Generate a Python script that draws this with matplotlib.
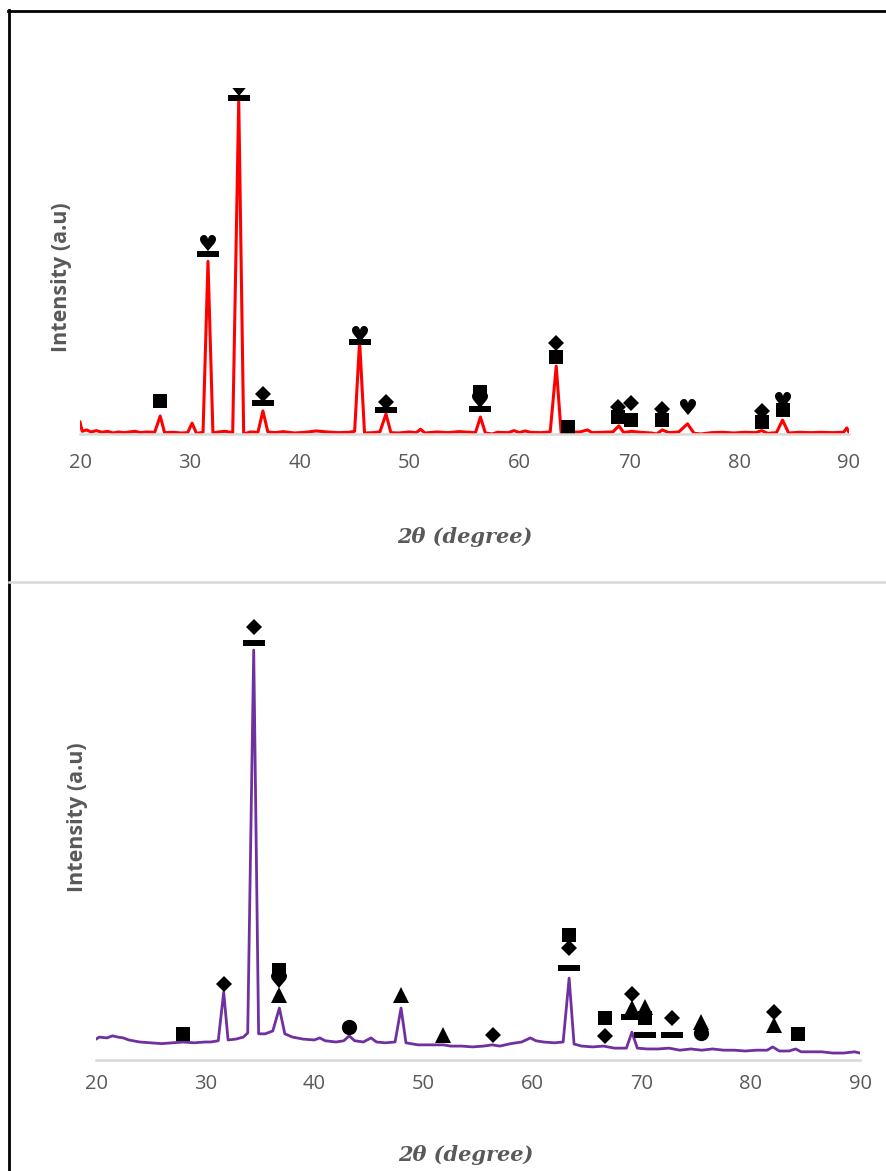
import numpy as np
import matplotlib
matplotlib.use("Agg")
import matplotlib.pyplot as plt
from matplotlib.lines import Line2D

# %%
# Top pattern (red) - 2theta and intensity (a.u.)
top_x = [20.0, 20.2, 20.6, 21.0, 21.5, 22.0, 22.5, 23.0, 23.5, 24.0, 25.0, 25.5, 26.0, 26.8,
         27.3, 27.7, 28.5, 29.2, 29.8, 30.2, 30.6, 31.2, 31.65, 32.1, 32.6, 33.2, 33.9,
         34.45, 34.9, 35.5, 36.2, 36.65, 37.1, 37.8, 38.5, 39.5, 40.5, 41.5, 42.5, 43.5,
         44.5, 45.0, 45.45, 45.9, 46.7, 47.3, 47.85, 48.3, 49.0, 50.0, 50.6, 51.0, 51.4,
         52.5, 53.5, 54.5, 55.5, 56.0, 56.45, 56.9, 57.5, 58.0, 59.0, 59.5, 60.0, 60.5,
         61.0, 62.0, 62.8, 63.35, 63.8, 64.5, 65.5, 66.2, 66.6, 67.5, 68.5, 69.05, 69.5,
         70.2, 71.0, 72.0, 72.5, 73.0, 73.6, 74.5, 75.3, 75.9, 76.5, 77.5, 78.5, 79.5,
         80.5, 81.5, 82.05, 82.6, 83.4, 83.95, 84.5, 85.5, 86.5, 87.5, 88.5, 89.5, 89.8, 90.0]
top_y = [35, 8, 12, 6, 10, 5, 8, 3, 6, 4, 8, 4, 6, 5,
         53, 4, 5, 3, 4, 32, 2, 5, 509, 3, 6, 8, 4,
         985, 0, 6, 5, 68, 6, 4, 7, 3, 5, 9, 6, 4,
         5, 8, 274, 3, 4, 6, 59, 4, 3, 6, 4, 14, 3,
         6, 4, 7, 5, 4, 50, 3, 0, 5, 4, 10, 4, 9,
         5, 4, 6, 200, 3, 5, 6, 12, 4, 5, 6, 24, 4,
         8, 5, 3, 0, 12, 4, 6, 30, 2, 0, 4, 5, 3,
         5, 4, 10, 2, 4, 41, 3, 5, 4, 5, 4, 5, 18, 5]

# Bottom pattern (purple)
bot_x = [20.0, 20.3, 21.0, 21.5, 22.0, 22.5, 23.0, 24.0, 25.0, 26.0, 27.0, 28.0, 29.0,
         30.0, 30.5, 31.2, 31.7, 32.1, 32.8, 33.5, 33.9, 34.45, 34.9, 35.5, 36.2, 36.8,
         37.3, 38.0, 39.0, 40.0, 40.5, 41.0, 42.0, 42.7, 43.2, 43.7, 44.5, 45.2, 45.7,
         46.5, 47.4, 47.95, 48.4, 49.5, 50.5, 51.8, 52.5, 53.5, 54.5, 55.5, 56.3, 57.0,
         58.0, 59.0, 59.8, 60.3, 61.0, 62.0, 62.8, 63.35, 63.8, 64.5, 65.5, 66.5, 67.5,
         68.6, 69.1, 69.6, 70.5, 71.5, 72.5, 73.5, 74.5, 75.5, 76.5, 77.5, 78.5, 79.5,
         80.5, 81.5, 82.0, 82.6, 83.5, 84.1, 84.6, 85.5, 86.5, 87.5, 88.5, 89.5, 90.0]
bot_y = [51, 56, 54, 59, 56, 54, 49, 44, 42, 40, 42, 44, 42,
         44, 44, 47, 166, 49, 51, 56, 66, 1002, 64, 64, 71, 127,
         64, 56, 51, 49, 54, 47, 44, 47, 59, 47, 44, 54, 44,
         42, 44, 127, 42, 37, 37, 37, 34, 34, 32, 34, 37, 34,
         40, 44, 54, 47, 44, 42, 44, 200, 39, 34, 32, 34, 29,
         29, 68, 29, 27, 27, 29, 24, 27, 24, 27, 24, 24, 22,
         24, 24, 32, 22, 22, 27, 20, 20, 20, 17, 17, 20, 17]

# Phase symbols: (2theta, height, kind)
top_mx = [27.3, 31.65, 31.65, 34.45, 34.45, 36.65, 36.65, 45.45, 45.45, 47.85, 47.85,
          56.45, 56.45, 56.45, 63.35, 63.35, 64.4, 69.0, 69.0, 70.2, 70.2, 73.0, 73.0,
          75.3, 82.1, 82.1, 84.0, 84.0]
top_my = [97, 556, 532, 1015, 990, 118, 91, 289, 271, 94, 71,
          124, 94, 74, 268, 227, 21, 80, 50, 91, 41, 74, 41,
          74, 68, 35, 94, 71]
top_mk = ['s', 'h', '-', 'h', '-', 'D', '-', 'h', '-', 'D', '-',
          's', 'h', '-', 'D', 's', 's', 'D', 's', 'D', 's', 'D', 's',
          'h', 'D', 's', 'h', 's']

bot_mx = [28.0, 31.7, 34.45, 34.45, 36.8, 36.8, 36.8, 43.2, 47.95, 51.8, 56.35,
          63.35, 63.35, 63.35, 66.6, 66.6, 69.1, 69.1, 69.1, 70.3, 70.3, 70.3,
          72.8, 72.8, 75.4, 75.4, 82.1, 82.1, 84.3]
bot_my = [64, 186, 1058, 1019, 220, 191, 159, 81, 159, 61, 61,
          306, 274, 225, 103, 59, 161, 127, 105, 130, 103, 61,
          103, 61, 93, 66, 117, 86, 64]
bot_mk = ['s', 'D', 'D', '-', 's', 'h', '^', 'o', '^', '^', 'D',
          's', 'D', '-', 's', 'D', 'D', '^', '-', '^', 's', '-',
          'D', '-', '^', 'o', 'D', '^', 's']

ticks = [20, 30, 40, 50, 60, 70, 80, 90]

W, H = 886, 1171
fig = plt.figure(figsize=(W / 100, H / 100), dpi=100)

dash = [(-1, -0.28), (1, -0.28), (1, 0.28), (-1, 0.28), (-1, -0.28)]
gray = '#595959'


def px_axes(l, r, top, bottom):
    return fig.add_axes([l / W, 1 - bottom / H, (r - l) / W, (bottom - top) / H])


def draw_symbols(ax, xs, ys, kinds):
    for x, y, k in zip(xs, ys, kinds):
        if k == 'h':
            ax.text(x, y, '\u2665', fontsize=16, ha='center', va='center',
                    family='DejaVu Sans', color='black', clip_on=True)
        elif k == '-':
            ax.plot(x, y, marker=dash, ms=16, color='black', mew=0, ls='none')
        elif k == 's':
            ax.plot(x, y, marker='s', ms=10.5, color='black', mew=0, ls='none')
        elif k == 'D':
            ax.plot(x, y, marker='D', ms=8.5, color='black', mew=0, ls='none')
        elif k == '^':
            ax.plot(x, y, marker='^', ms=12, color='black', mew=0, ls='none')
        elif k == 'o':
            ax.plot(x, y, marker='o', ms=11, color='black', mew=0, ls='none')


def style(ax, pad):
    for s in ['top', 'right', 'left']:
        ax.spines[s].set_visible(False)
    ax.spines['bottom'].set_color('#D9D9D9')
    ax.spines['bottom'].set_linewidth(1.8)
    ax.set_xlim(20, 90)
    ax.set_xticks(ticks)
    ax.set_yticks([])
    ax.tick_params(axis='x', length=0, pad=pad, labelsize=14.5, labelcolor=gray)
    for lab in ax.get_xticklabels():
        lab.set_family('Open Sans')


# %%
# Top panel
ax1 = px_axes(80, 849, 88, 434)
ax1.plot(top_x, top_y, color='#FF0000', lw=2.2)
ax1.set_ylim(0, 1020)
style(ax1, 14)
draw_symbols(ax1, top_mx, top_my, top_mk)

# %%
# Bottom panel
ax2 = px_axes(96, 860, 610, 1060)
ax2.plot(bot_x, bot_y, color='#7030A0', lw=2.0)
ax2.set_ylim(0, 1100)
style(ax2, 10)
draw_symbols(ax2, bot_mx, bot_my, bot_mk)

# axis titles
for (x, y) in [(62, 277), (78, 817)]:
    fig.text(x / W, 1 - y / H, 'Intensity (a.u)', rotation=90, ha='center', va='center',
             fontsize=15.5, fontweight='bold', color=gray, family='Open Sans')
for (x, y) in [(465, 537), (466, 1155)]:
    fig.text(x / W, 1 - y / H, '2\u03b8 (degree)', ha='center', va='center',
             fontsize=15, fontweight='bold', fontstyle='italic', color=gray,
             family='DejaVu Serif')

# frame lines: black border left/top and gray divider
fig.add_artist(Line2D([8.5 / W, 8.5 / W], [0, 1 - 10 / H], color='black', lw=2))
fig.add_artist(Line2D([8 / W, 1], [1 - 10.5 / H, 1 - 10.5 / H], color='black', lw=2))
fig.add_artist(Line2D([9 / W, 1], [1 - 582 / H, 1 - 582 / H], color='#D9D9D9', lw=1.8))

fig.savefig('out.png', dpi=100)
